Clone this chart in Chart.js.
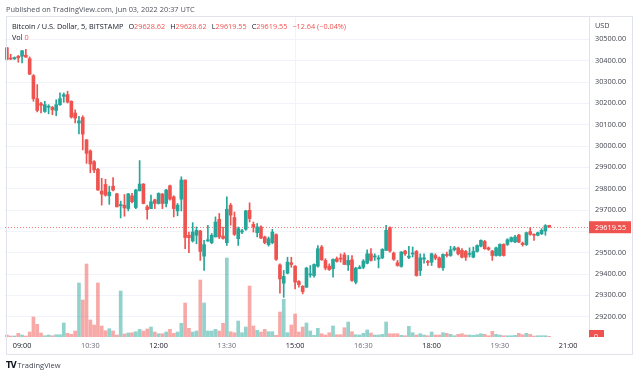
<!DOCTYPE html>
<html>
<head>
<meta charset="utf-8">
<script src="https://cdn.jsdelivr.net/npm/chart.js@4.4.0/dist/chart.umd.min.js"></script>
<style>
  html, body { margin: 0; padding: 0; background: #fff; }
  body { width: 640px; height: 376px; position: relative; overflow: hidden; font-family: "Open Sans", "Noto Sans", sans-serif; }
  #chart { position: absolute; left: 0; top: 0; }
  .txt { position: absolute; white-space: nowrap; font-size: 7.3px; line-height: 10px; color: #131722; }
  .red { color: #ef5350; }
  .gap { margin-left: 5px; }
</style>
</head>
<body>
<canvas id="chart" width="640" height="376"></canvas>

<div class="txt" style="left:6px;top:4px;color:#50535e;font-size:7.4px">Published on TradingView.com, Jun 03, 2022 20:37 UTC</div>
<div class="txt" style="left:12px;top:21px">Bitcoin / U.S. Dollar, 5, BITSTAMP<span class="gap">O</span><span class="red">29628.62</span><span class="gap">H</span><span class="red">29628.62</span><span class="gap">L</span><span class="red">29619.55</span><span class="gap">C</span><span class="red">29619.55</span><span class="red gap">−12.64 (−0.04%)</span></div>
<div class="txt" style="left:12px;top:32px">Vol <span class="red">0</span></div>
<div class="txt" style="left:595px;top:20px;color:#434651;font-size:7.3px">USD</div>
<div class="txt" style="left:6px;top:360px;font-size:7.5px"><b style="font-family:'DejaVu Sans';letter-spacing:-1px;font-size:8px">TV</b> <span style="color:#434651">TradingView</span></div>

<script>
// 5 minute candles, BTC/USD Bitstamp, 08:40 .. 20:35
const opens = [30461,30410,30409,30421,30421,30426,30410,30330,30222,30199,
  30162,30182,30181,30167,30194,30233,30241,30210,30155,30108,
  30134,30029,29977,29927,29891,29789,29820,29767,29812,29776,
  29720,29723,29707,29767,29712,29790,29822,29715,29707,29748,
  29731,29775,29731,29814,29762,29696,29751,29841,29582,29555,
  29582,29602,29484,29555,29547,29574,29657,29578,29547,29723,
  29665,29566,29597,29610,29699,29633,29594,29621,29574,29538,
  29547,29585,29443,29357,29404,29453,29437,29365,29343,29338,
  29396,29393,29437,29527,29464,29437,29425,29472,29475,29490,
  29443,29467,29362,29425,29432,29451,29495,29480,29470,29476,
  29511,29618,29498,29453,29436,29508,29478,29494,29506,29417,
  29470,29459,29456,29487,29476,29429,29492,29487,29514,29522,
  29511,29506,29492,29479,29506,29531,29553,29523,29508,29487,
  29487,29539,29539,29553,29550,29583,29545,29538,29599,29586,
  29582,29589,29602,29628.62];
const highs = [30463,30430,30418,30425,30448,30453,30418,30335,30288,30205,
  30210,30194,30186,30217,30249,30249,30257,30212,30170,30139,
  30142,30031,29982,29932,29896,29849,29844,29812,29852,29778,
  29742,29773,29778,29778,29797,29932,29824,29723,29770,29751,
  29781,29778,29797,29817,29767,29731,29856,29841,29597,29641,
  29621,29605,29558,29629,29590,29668,29684,29620,29762,29731,
  29691,29621,29610,29699,29734,29644,29637,29626,29578,29574,
  29610,29589,29448,29417,29479,29479,29440,29370,29346,29432,
  29440,29448,29534,29534,29472,29448,29472,29480,29495,29500,
  29487,29487,29432,29440,29468,29514,29519,29495,29487,29519,
  29629,29621,29503,29464,29506,29511,29530,29527,29511,29495,
  29495,29464,29498,29495,29480,29495,29503,29530,29530,29527,
  29519,29511,29523,29527,29537,29561,29558,29527,29511,29527,
  29542,29542,29566,29574,29582,29586,29550,29597,29618,29589,
  29597,29613,29632,29628.62];
const lows = [30404,30405,30406,30393,30390,30415,30335,30210,30160,30155,
  30158,30151,30147,30142,30190,30205,30202,30131,30108,30057,
  29982,29919,29875,29875,29792,29723,29765,29727,29790,29715,
  29663,29671,29696,29734,29707,29790,29729,29657,29707,29707,
  29728,29707,29715,29746,29668,29673,29696,29519,29500,29550,
  29542,29464,29417,29553,29542,29574,29566,29563,29534,29629,
  29581,29534,29589,29605,29644,29597,29574,29566,29542,29531,
  29542,29464,29311,29291,29401,29432,29330,29338,29307,29338,
  29385,29385,29432,29464,29420,29417,29385,29456,29456,29445,
  29417,29365,29354,29425,29425,29448,29461,29464,29429,29472,
  29511,29503,29464,29437,29432,29487,29472,29480,29390,29393,
  29451,29440,29440,29467,29429,29417,29480,29483,29508,29490,
  29476,29464,29480,29476,29503,29527,29516,29511,29464,29484,
  29484,29484,29534,29550,29547,29547,29531,29534,29582,29558,
  29579,29585,29582,29619.55];
const closes = [30406,30408,30415,30414,30447,30417,30337,30222,30167,30191,
  30194,30187,30170,30194,30222,30241,30206,30136,30131,30118,
  30056,29966,29916,29888,29794,29775,29770,29784,29794,29715,
  29726,29710,29776,29739,29794,29822,29731,29702,29739,29731,
  29778,29731,29794,29751,29707,29723,29841,29571,29571,29597,
  29605,29506,29538,29561,29582,29644,29574,29567,29704,29676,
  29586,29613,29603,29696,29660,29621,29621,29569,29547,29566,
  29597,29469,29377,29389,29456,29445,29362,29351,29318,29428,
  29401,29445,29519,29467,29428,29421,29469,29459,29470,29445,
  29464,29370,29428,29432,29461,29495,29464,29485,29476,29516,
  29605,29508,29469,29440,29503,29495,29484,29498,29393,29476,
  29476,29454,29495,29475,29432,29492,29487,29514,29523,29495,
  29479,29479,29495,29506,29534,29558,29519,29516,29487,29523,
  29539,29487,29561,29571,29574,29550,29538,29594,29586,29582,
  29594,29605,29627,29619.55];
const volumes = [2,1,1,3.7,2,1,5,20,12.7,4,
  1.3,2,1.3,2.3,2.3,14,3.7,2.7,6,54,
  37,73,17,12,54,11,6.3,8.3,6,2,
  46,3,4,4.3,5.3,7.7,6,8,10,5,
  3.3,3.3,5,7.7,3.7,5,13.7,34,8.7,5,
  6,57,34,6,6,7.7,6,13.7,79,5.3,
  4.3,16,4.3,10,51,11,6.7,5,7.7,5.3,
  5.3,1.7,25,37.7,4.3,12,23,5,10,14,
  6,1.7,8.7,3.3,2,4.3,11,2.3,2.3,9.3,
  15,5.3,2.3,2,3.7,7,4,2,2,2.7,
  15,3.3,3.3,3.3,1.7,1.3,10.7,4.3,2,3.3,
  2,1.3,5,2,2,4.3,3.7,2.7,1.3,2.7,
  3.3,2,2,1.7,2.3,3.3,2.7,1.3,5.7,2.7,
  2,1.3,1.3,1.3,1.7,3.7,2.3,3.7,2.7,1,
  1.3,1.3,1.3,0.7];

const priceTicks = [29200,29300,29400,29500,29600,29700,29800,29900,30000,30100,30200,30300,30400,30500];
const timeTicks = ['09:00','10:30','12:00','13:30','15:00','16:30','18:00','19:30','21:00'];
const majorTimes = ['09:00','12:00','15:00','18:00','21:00'];

// time slots every 5 minutes from 08:40, a few empty ones on the right
const times = [];
for (let m = 8 * 60 + 40; m <= 21 * 60 + 25; m += 5) {
    times.push(String(Math.floor(m / 60)).padStart(2, '0') + ':' + String(m % 60).padStart(2, '0'));
}

const UP = '#26a69a', DOWN = '#ef5350';
const isUp = i => closes[i] >= opens[i];
const candleColors = opens.map((o, i) => isUp(i) ? UP : DOWN);
const volColors = opens.map((o, i) => isUp(i) ? 'rgba(38,166,154,0.5)' : 'rgba(239,83,80,0.5)');

const lastClose = closes[closes.length - 1];
const lastVol = 0;

const overlay = {
    id: 'overlay',
    afterDatasetsDraw(chart) {
        const { ctx, chartArea, scales } = chart;
        const y = Math.round(scales.y.getPixelForValue(lastClose)) + 0.5;
        ctx.save();
        ctx.strokeStyle = 'rgba(239,83,80,0.75)';
        ctx.lineWidth = 1;
        ctx.setLineDash([1, 2]);
        ctx.beginPath();
        ctx.moveTo(chartArea.left, y);
        ctx.lineTo(chartArea.right, y);
        ctx.stroke();
        ctx.restore();
    },
    afterDraw(chart) {
        const { ctx, chartArea, scales } = chart;
        ctx.save();
        // frame round the chart
        ctx.strokeStyle = '#e0e3eb';
        ctx.lineWidth = 1;
        ctx.strokeRect(6.5, 16.5, 626, 338);

        // last price label
        const y = scales.y.getPixelForValue(lastClose);
        ctx.fillStyle = DOWN;
        ctx.fillRect(chartArea.right, y - 6, 42, 12);
        ctx.fillStyle = '#fff';
        ctx.font = '7.3px "Open Sans"';
        ctx.textBaseline = 'middle';
        ctx.fillText(lastClose.toFixed(2), chartArea.right + 6, y + 0.5);

        // volume label, cut by the pane bottom
        const yv = scales.yv.getPixelForValue(lastVol);
        ctx.beginPath();
        ctx.rect(chartArea.right, chartArea.top, 50, chartArea.bottom - chartArea.top);
        ctx.clip();
        ctx.fillStyle = DOWN;
        ctx.fillRect(chartArea.right, yv - 7, 15, 14);
        ctx.fillStyle = '#fff';
        ctx.fillText(String(lastVol), chartArea.right + 5, yv);
        ctx.restore();
    }
};

new Chart(document.getElementById('chart'), {
    type: 'bar',
    data: {
        labels: times,
        datasets: [
            {
                label: 'Bodies',
                data: opens.map((o, i) => [o, closes[i]]),
                backgroundColor: candleColors,
                barThickness: 3,
                minBarLength: 1,
                grouped: false,
                order: 1
            },
            {
                label: 'Wicks',
                data: lows.map((l, i) => [l, highs[i]]),
                backgroundColor: candleColors,
                barThickness: 1,
                grouped: false,
                order: 2
            },
            {
                label: 'Vol',
                data: volumes,
                yAxisID: 'yv',
                backgroundColor: volColors,
                barThickness: 3,
                grouped: false,
                order: 3
            }
        ]
    },
    options: {
        responsive: false,
        animation: false,
        layout: { padding: { left: 5, top: 17, right: 7, bottom: 21 } },
        plugins: {
            legend: { display: false },
            tooltip: { enabled: false }
        },
        scales: {
            x: {
                type: 'category',
                offset: true,
                grid: {
                    offset: false,
                    drawTicks: false,
                    color: ctx => timeTicks.includes(times[ctx.index]) ? '#f0f3fa' : 'rgba(0,0,0,0)'
                },
                border: { display: false },
                ticks: {
                    autoSkip: false,
                    maxRotation: 0,
                    padding: 5,
                    font: { family: '"Open Sans"', size: 7.3 },
                    color: ctx => (ctx.tick && majorTimes.includes(ctx.tick.label)) ? '#131722' : '#6a6d78',
                    callback: (v) => timeTicks.includes(times[v]) ? times[v] : null
                },
                afterFit(scale) { scale.height = 18; }
            },
            y: {
                position: 'right',
                min: 29105,
                max: 30605,
                afterBuildTicks(scale) { scale.ticks = priceTicks.map(v => ({ value: v })); },
                grid: { color: '#f0f3fa', drawTicks: false },
                border: { color: '#e0e3eb' },
                ticks: {
                    padding: 6,
                    crossAlign: 'near',
                    color: '#434651',
                    font: { family: '"Open Sans"', size: 7.3 },
                    callback: v => Number(v).toFixed(2)
                },
                afterFit(scale) { scale.width = 44; }
            },
            yv: {
                display: false,
                min: 0,
                max: 320
            }
        }
    },
    plugins: [overlay]
});
</script>
</body>
</html>
